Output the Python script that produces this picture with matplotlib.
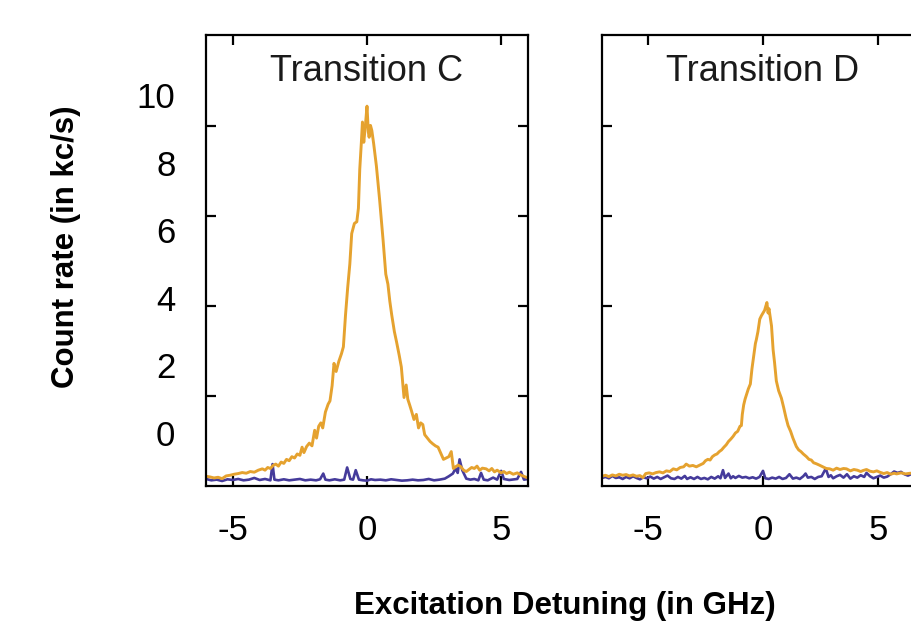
import matplotlib
matplotlib.use("Agg")
import matplotlib.pyplot as plt

plt.rcParams['font.family'] = ['Liberation Sans', 'DejaVu Sans']

# detuning (GHz) and count rate (kc/s)
c_on_x = [-6.0, -5.85, -5.7, -5.55, -5.4, -5.25, -5.1, -4.95, -4.8, -4.65, -4.5, -4.35, -4.2, -4.05,
          -3.9, -3.8, -3.7, -3.6, -3.5, -3.4, -3.3, -3.2, -3.1, -3.0, -2.9, -2.8, -2.7, -2.6, -2.5,
          -2.42, -2.35, -2.25, -2.15, -2.05, -1.95, -1.88, -1.8, -1.72, -1.65, -1.55, -1.45, -1.38,
          -1.3, -1.23, -1.15, -1.05, -0.95, -0.88, -0.8, -0.72, -0.64, -0.57, -0.47, -0.38, -0.32,
          -0.27, -0.21, -0.17, -0.12, -0.06, 0.0, 0.05, 0.08, 0.13, 0.18, 0.25, 0.35, 0.47, 0.6, 0.7,
          0.78, 0.85, 0.92, 1.02, 1.1, 1.2, 1.28, 1.34, 1.38, 1.46, 1.52, 1.59, 1.66, 1.75, 1.84,
          1.92, 2.0, 2.08, 2.15, 2.25, 2.35, 2.45, 2.55, 2.65, 2.75, 2.85, 2.95, 3.05, 3.14, 3.22,
          3.3, 3.4, 3.5, 3.6, 3.7, 3.8, 3.9, 4.0, 4.1, 4.2, 4.3, 4.44, 4.55, 4.65, 4.75, 4.85, 5.0,
          5.1, 5.2, 5.31, 5.45, 5.6, 5.75, 5.9, 6.0]
c_on_y = [-1.28, -1.30, -1.33, -1.31, -1.35, -1.27, -1.25, -1.22, -1.20, -1.17, -1.19, -1.14, -1.16, -1.10,
          -1.06, -1.10, -1.02, -1.05, -0.96, -0.92, -0.98, -0.86, -0.90, -0.78, -0.82, -0.70, -0.74, -0.62, -0.66,
          -0.42, -0.58, -0.40, -0.30, -0.38, 0.08, -0.15, 0.20, 0.30, 0.15, 0.62, 0.85, 0.95,
          1.40, 2.06, 1.82, 2.12, 2.35, 2.55, 3.5, 4.3, 5.0, 5.9, 6.2, 6.25, 6.65,
          7.8, 8.6, 9.2, 8.6, 9.1, 9.67, 8.9, 8.75, 9.1, 8.95, 8.55, 7.9, 6.9, 5.7, 4.7,
          4.4, 3.9, 3.5, 3.0, 2.7, 2.3, 1.95, 1.4, 1.05, 1.42, 1.0, 0.83, 0.65, 0.40, 0.55,
          0.15, 0.30, 0.25, -0.05, -0.15, -0.25, -0.32, -0.38, -0.42, -0.60, -0.78, -0.74, -0.70, -0.55, -1.05,
          -1.00, -0.95, -1.00, -1.10, -1.14, -1.08, -1.02, -1.05, -0.98, -1.10, -1.04, -1.06, -1.12, -1.05, -1.15, -1.10, -1.18,
          -1.14, -1.20, -1.16, -1.22, -1.18, -1.25, -1.30, -1.33]

c_off_x = [-6.0, -5.8, -5.6, -5.4, -5.2, -5.0, -4.8, -4.6, -4.4, -4.2, -4.0, -3.8, -3.6, -3.52, -3.45,
           -3.3, -3.1, -2.9, -2.7, -2.5, -2.3, -2.1, -1.9, -1.75, -1.63, -1.55, -1.4, -1.2, -1.0, -0.85,
           -0.74, -0.62, -0.52, -0.42, -0.3, -0.15, 0.0, 0.15, 0.3, 0.5, 0.7, 0.9, 1.1, 1.3, 1.5, 1.7,
           1.9, 2.1, 2.3, 2.5, 2.7, 2.9, 3.05, 3.2, 3.3, 3.38, 3.45, 3.55, 3.7, 3.85, 4.0, 4.15, 4.25,
           4.35, 4.5, 4.7, 4.85, 5.0, 5.1, 5.3, 5.5, 5.6, 5.74, 5.85, 6.0]
c_off_y = [-1.36, -1.40, -1.38, -1.42, -1.37, -1.39, -1.36, -1.40, -1.38, -1.33, -1.39, -1.36, -1.40, -0.92, -1.38,
           -1.40, -1.37, -1.40, -1.38, -1.36, -1.40, -1.38, -1.40, -1.37, -1.20, -1.38, -1.40, -1.37, -1.40, -1.38,
           -1.02, -1.36, -1.38, -1.10, -1.38, -1.40, -1.41, -1.37, -1.39, -1.38, -1.40, -1.37, -1.39, -1.41, -1.40, -1.38,
           -1.40, -1.39, -1.36, -1.40, -1.38, -1.35, -1.28, -1.20, -1.05, -1.18, -0.78, -1.10, -1.35, -1.38, -1.36, -1.40, -1.18,
           -1.38, -1.40, -1.32, -1.38, -1.12, -1.36, -1.39, -1.37, -1.36, -1.15, -1.38, -1.36]

d_on_x = [-7.0, -6.85, -6.7, -6.55, -6.4, -6.25, -6.1, -5.95, -5.8, -5.65, -5.5, -5.35, -5.22, -5.1, -4.95,
          -4.8, -4.65, -4.5, -4.35, -4.2, -4.05, -3.9, -3.75, -3.6, -3.45, -3.34, -3.2, -3.05, -2.9, -2.75,
          -2.6, -2.5, -2.4, -2.3, -2.2, -2.1, -2.0, -1.9, -1.8, -1.7, -1.6, -1.5, -1.4, -1.3, -1.2, -1.1,
          -1.0, -0.94, -0.9, -0.84, -0.78, -0.72, -0.64, -0.55, -0.48, -0.40, -0.33, -0.29, -0.22, -0.14,
          -0.07, 0.0, 0.07, 0.12, 0.17, 0.22, 0.26, 0.32, 0.37, 0.44, 0.5, 0.58, 0.68, 0.8, 0.9, 1.0,
          1.09, 1.2, 1.3, 1.45, 1.55, 1.65, 1.75, 1.89, 2.0, 2.1, 2.2, 2.32, 2.45, 2.6, 2.75, 2.9, 3.05,
          3.2, 3.35, 3.5, 3.63, 3.8, 3.95, 4.1, 4.25, 4.35, 4.5, 4.65, 4.8, 4.95, 5.08, 5.25, 5.4, 5.55,
          5.7, 5.81, 6.0, 6.2, 6.4, 6.6, 6.8, 7.0]
d_on_y = [-1.28, -1.25, -1.29, -1.24, -1.27, -1.22, -1.25, -1.23, -1.27, -1.24, -1.28, -1.26, -1.32, -1.20, -1.18,
          -1.21, -1.17, -1.15, -1.18, -1.12, -1.14, -1.06, -1.09, -1.02, -1.00, -0.92, -0.98, -0.96, -1.00, -0.95,
          -0.90, -0.82, -0.78, -0.80, -0.70, -0.65, -0.62, -0.55, -0.50, -0.42, -0.35, -0.25, -0.18, -0.10, 0.0, 0.05,
          0.20, 0.22, 0.55, 0.83, 1.0, 1.13, 1.30, 1.45, 1.9, 2.3, 2.65, 2.76, 3.0, 3.37,
          3.47, 3.55, 3.63, 3.75, 3.86, 3.55, 3.68, 3.40, 3.17, 2.46, 2.1, 1.54, 1.25, 1.03, 0.75, 0.45,
          0.22, 0.05, -0.15, -0.40, -0.50, -0.55, -0.62, -0.70, -0.78, -0.80, -0.88, -0.91, -0.95, -1.00, -1.05, -1.06, -1.10,
          -1.04, -1.08, -1.05, -1.06, -1.12, -1.08, -1.10, -1.14, -1.11, -1.08, -1.13, -1.15, -1.12, -1.16, -1.20, -1.17, -1.22,
          -1.19, -1.21, -1.18, -1.21, -1.19, -1.20, -1.22, -1.20]

d_off_x = [-7.0, -6.85, -6.7, -6.55, -6.4, -6.25, -6.1, -5.95, -5.8, -5.65, -5.5, -5.35, -5.2, -5.05, -4.9,
           -4.75, -4.6, -4.45, -4.3, -4.15, -4.0, -3.85, -3.7, -3.55, -3.4, -3.3, -3.15, -3.0, -2.85, -2.7,
           -2.55, -2.4, -2.25, -2.1, -1.95, -1.85, -1.74, -1.65, -1.5, -1.4, -1.3, -1.2, -1.05, -0.9, -0.75,
           -0.6, -0.45, -0.3, -0.15, 0.0, 0.1, 0.25, 0.4, 0.55, 0.7, 0.85, 1.0, 1.15, 1.3, 1.45, 1.6, 1.75,
           1.85, 1.95, 2.1, 2.25, 2.4, 2.55, 2.73, 2.85, 2.95, 3.05, 3.2, 3.35, 3.5, 3.65, 3.8, 3.95, 4.1,
           4.25, 4.4, 4.5, 4.65, 4.8, 4.95, 5.1, 5.25, 5.4, 5.55, 5.7, 5.85, 6.0, 6.15, 6.3, 6.5, 6.7, 7.0]
d_off_y = [-1.33, -1.30, -1.34, -1.27, -1.33, -1.31, -1.36, -1.30, -1.34, -1.28, -1.33, -1.37, -1.31, -1.34, -1.29,
           -1.35, -1.30, -1.36, -1.31, -1.26, -1.34, -1.36, -1.30, -1.35, -1.27, -1.36, -1.31, -1.36, -1.30, -1.36,
           -1.33, -1.37, -1.30, -1.35, -1.28, -1.34, -1.10, -1.33, -1.20, -1.34, -1.28, -1.33, -1.27, -1.32, -1.30,
           -1.34, -1.31, -1.35, -1.30, -1.12, -1.34, -1.36, -1.32, -1.35, -1.30, -1.36, -1.33, -1.22, -1.35, -1.32, -1.36, -1.28,
           -1.20, -1.32, -1.30, -1.36, -1.30, -1.28, -1.05, -1.30, -1.25, -1.34, -1.28, -1.24, -1.32, -1.22, -1.35, -1.28, -1.32,
           -1.25, -1.30, -1.18, -1.28, -1.34, -1.30, -1.26, -1.32, -1.29, -1.22, -1.14, -1.18, -1.15, -1.22, -1.26, -1.20, -1.25, -1.22]

panel_titles = ['Transition C', 'Transition D']
y_labels = [0, 2, 4, 6, 8, 10]
x_labels = [-5, 0, 5]
inner_ticks = [1.095, 3.757, 6.420, 9.083]

orange = '#E5A22F'
blue = '#453B9B'

fig = plt.figure(figsize=(9.12, 6.26), dpi=100)
ax1 = fig.add_axes([206 / 912, 140 / 626, 322 / 912, 451 / 626])
ax2 = fig.add_axes([602 / 912, 140 / 626, 322 / 912, 451 / 626])

panels = [(ax1, c_on_x, c_on_y, c_off_x, c_off_y, (-6, 6)),
          (ax2, d_on_x, d_on_y, d_off_x, d_off_y, (-7, 7))]

for i, (ax, xo, yo, xf, yf, xl) in enumerate(panels):
    ax.plot(xf, yf, color=blue, lw=1.9)
    ax.plot(xo, yo, color=orange, lw=2.1)
    ax.set_xlim(*xl)
    ax.set_ylim(-1.568, 11.775)
    ax.set_xticks(x_labels)
    ax.set_xticklabels([str(v) for v in x_labels])
    ax.set_yticks(y_labels)
    ax.set_yticklabels([str(v) for v in y_labels])
    ax.set_yticks(inner_ticks, minor=True)
    ax.tick_params(axis='x', which='major', direction='in', top=True, bottom=True,
                   length=7, width=1.6, labelsize=25, pad=20)
    ax.tick_params(axis='y', which='major', length=0, labelsize=25, pad=22,
                   labelleft=(i == 0))
    ax.tick_params(axis='y', which='minor', direction='in', left=True, right=True,
                   length=7, width=1.6)
    ax.tick_params(axis='x', which='minor', bottom=False, top=False)
    for s in ax.spines.values():
        s.set_linewidth(1.6)
    ax.text(0.5, 0.918, panel_titles[i], transform=ax.transAxes, ha='center',
            va='center', fontsize=26, color='#1a1a1a')

fig.text(66 / 912, 1 - 247 / 626, 'Count rate (in kc/s)', rotation=90, ha='center',
         va='center', fontsize=22.5, fontweight='bold')
fig.text(565 / 912, 1 - 606 / 626, 'Excitation Detuning (in GHz)', ha='center',
         va='center', fontsize=22.5, fontweight='bold')

fig.savefig('out.png', dpi=100)
